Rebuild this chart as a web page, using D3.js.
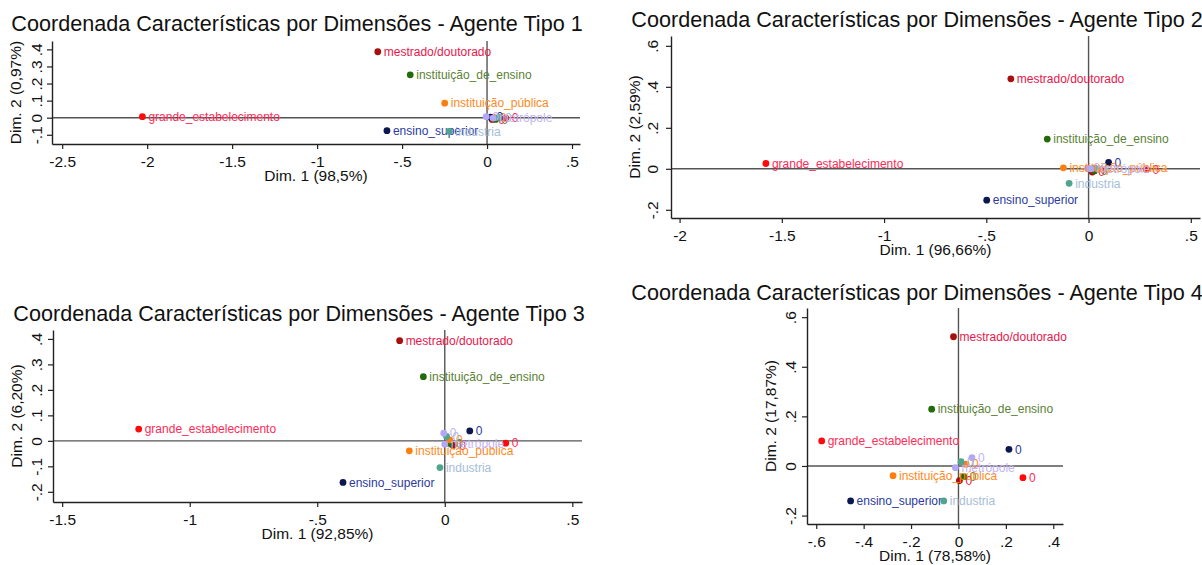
<!DOCTYPE html>
<html>
<head>
<meta charset="utf-8">
<script src="https://cdn.jsdelivr.net/npm/d3@7"></script>
<style>
  body { margin: 0; background: #fff; }
  svg { display: block; font-family: "Liberation Sans", Arial, sans-serif; }
</style>
</head>
<body>
<div id="chart"></div>
<script>
/* global d3 */

// categories (level 1) and their "0" counterparts
const categories = ['mestrado/doutorado', 'instituição_de_ensino', 'instituição_pública',
  'grande_estabelecimento', 'ensino_superior', 'industria', 'metrópole']
const zeroLabel = '0'

const titles = [
  'Coordenada Características por Dimensões - Agente Tipo 1',
  'Coordenada Características por Dimensões - Agente Tipo 2',
  'Coordenada Características por Dimensões - Agente Tipo 3',
  'Coordenada Características por Dimensões - Agente Tipo 4'
]
const dim1Labels = ['Dim. 1 (98,5%)', 'Dim. 1 (96,66%)', 'Dim. 1 (92,85%)', 'Dim. 1 (78,58%)']
const dim2Labels = ['Dim. 2 (0,97%)', 'Dim. 2 (2,59%)', 'Dim. 2 (6,20%)', 'Dim. 2 (17,87%)']

// coordinates, tipo 1
const tipo1Dim1 = [-0.643, -0.452, -0.249, -2.028, -0.589, -0.222, 0.035]
const tipo1Dim2 = [0.386, 0.251, 0.085, 0.006, -0.076, -0.080, -0.002]
const tipo1ZeroDim1 = [0.03, 0.05, 0.04, 0.11, 0.02, 0.07, -0.005]
const tipo1ZeroDim2 = [-0.01, -0.01, 0.002, -0.002, 0.003, 0.002, 0.006]

// tipo 2
const tipo2Dim1 = [-0.380, -0.202, -0.123, -1.578, -0.498, -0.095, 0.01]
const tipo2Dim2 = [0.439, 0.145, 0.005, 0.026, -0.153, -0.071, 0.0]
const tipo2ZeroDim1 = [0.018, 0.03, 0.05, 0.283, 0.098, 0.03, -0.005]
const tipo2ZeroDim2 = [-0.016, -0.01, -0.002, -0.003, 0.031, 0.005, 0.003]

// tipo 3
const tipo3Dim1 = [-0.177, -0.084, -0.139, -1.200, -0.399, -0.019, 0.0]
const tipo3Dim2 = [0.393, 0.252, -0.039, 0.046, -0.163, -0.105, -0.013]
const tipo3ZeroDim1 = [0.033, 0.02, 0.02, 0.239, 0.098, 0.007, -0.004]
const tipo3ZeroDim2 = [-0.018, -0.012, 0.004, -0.009, 0.039, 0.017, 0.030]

// tipo 4
const tipo4Dim1 = [-0.021, -0.113, -0.276, -0.577, -0.455, -0.062, -0.013]
const tipo4Dim2 = [0.521, 0.229, -0.039, 0.101, -0.141, -0.141, -0.007]
const tipo4ZeroDim1 = [0.004, 0.022, 0.032, 0.272, 0.213, 0.011, 0.057]
const tipo4ZeroDim2 = [-0.059, -0.043, 0.007, -0.047, 0.067, 0.017, 0.034]

// ticks
const xTicks = [
  [-2.5, -2, -1.5, -1, -0.5, 0, 0.5],
  [-2, -1.5, -1, -0.5, 0, 0.5],
  [-1.5, -1, -0.5, 0, 0.5],
  [-0.6, -0.4, -0.2, 0, 0.2, 0.4]
]
const yTicks = [
  [-0.1, 0, 0.1, 0.2, 0.3, 0.4],
  [-0.2, 0, 0.2, 0.4, 0.6],
  [-0.2, -0.1, 0, 0.1, 0.2, 0.3, 0.4],
  [-0.2, 0, 0.2, 0.4, 0.6]
]

const markerColors = ['#a80f0f', '#236b0a', '#ff7f0e', '#ff0a0a', '#0b1850', '#4fa58e', '#b3a8f5']
const labelColors = ['#e8174b', '#5a8235', '#ff8a1e', '#ff2a55', '#2b3aa0', '#a5bdd8', '#c3b4f2']

const W = 1202
const H = 565

// plot regions in pixels and their domains
const panels = [
  { box: { l: 52, r: 580, t: 41, b: 144 }, xDom: [-2.56, 0.547], yDom: [-0.154, 0.449], titleX: 297, titleY: 31, yTickOff: 10,
    d1: tipo1Dim1, d2: tipo1Dim2, z1: tipo1ZeroDim1, z2: tipo1ZeroDim2 },
  { box: { l: 671, r: 1200, t: 36, b: 218 }, xDom: [-2.042, 0.545], yDom: [-0.240, 0.648], titleX: 917, titleY: 27, yTickOff: 13,
    d1: tipo2Dim1, d2: tipo2Dim2, z1: tipo2ZeroDim1, z2: tipo2ZeroDim2 },
  { box: { l: 53, r: 582, t: 330, b: 502 }, xDom: [-1.536, 0.538], yDom: [-0.240, 0.435], titleX: 299, titleY: 321, yTickOff: 11,
    d1: tipo3Dim1, d2: tipo3Dim2, z1: tipo3ZeroDim1, z2: tipo3ZeroDim2 },
  { box: { l: 807, r: 1063, t: 308, b: 524 }, xDom: [-0.639, 0.441], yDom: [-0.234, 0.637], titleX: 917, titleY: 300, yTickOff: 11,
    d1: tipo4Dim1, d2: tipo4Dim2, z1: tipo4ZeroDim1, z2: tipo4ZeroDim2 }
]

// stata style number labels: .5, -.2
const fmt = (d) => d === 0 ? '0' : String(+d.toFixed(2)).replace(/^(-?)0\./, '$1.')

const svg = d3.select('#chart')
  .append('svg')
  .attr('width', W)
  .attr('height', H)

panels.forEach((p, i) => {
  const x = d3.scaleLinear().domain(p.xDom).range([p.box.l, p.box.r])
  const y = d3.scaleLinear().domain(p.yDom).range([p.box.b, p.box.t])
  const g = svg.append('g')

  // title
  g.append('text')
    .attr('x', p.titleX)
    .attr('y', p.titleY)
    .attr('text-anchor', 'middle')
    .style('font-size', '21.6px')
    .style('fill', '#111')
    .text(titles[i])

  // reference lines at 0
  g.append('line')
    .attr('x1', p.box.l).attr('x2', p.box.r)
    .attr('y1', y(0)).attr('y2', y(0))
    .style('stroke', '#555').style('stroke-width', 1.4)
  g.append('line')
    .attr('x1', x(0)).attr('x2', x(0))
    .attr('y1', p.box.t).attr('y2', p.box.b)
    .style('stroke', '#555').style('stroke-width', 1.4)

  // x axis
  const xAxis = g.append('g')
    .attr('transform', `translate(0,${p.box.b})`)
    .call(d3.axisBottom(x).tickValues(xTicks[i]).tickFormat(fmt).tickSize(5).tickSizeOuter(0))
  xAxis.select('.domain').style('stroke', '#222').style('stroke-width', 1.4)
  xAxis.selectAll('.tick line').style('stroke', '#222').style('stroke-width', 1.2)
  xAxis.selectAll('.tick text')
    .attr('y', 23).attr('dy', 0)
    .style('font-size', '15.5px')
    .style('fill', '#111')
    .style('font-family', '"Liberation Sans", Arial, sans-serif')

  // y axis, rotated labels
  const yAxis = g.append('g')
    .attr('transform', `translate(${p.box.l},0)`)
    .call(d3.axisLeft(y).tickValues(yTicks[i]).tickFormat(fmt).tickSize(5).tickSizeOuter(0))
  yAxis.select('.domain').style('stroke', '#222').style('stroke-width', 1.4)
  yAxis.selectAll('.tick line').style('stroke', '#222').style('stroke-width', 1.2)
  yAxis.selectAll('.tick text')
    .attr('transform', 'rotate(-90)')
    .attr('x', 0).attr('y', -p.yTickOff).attr('dy', 0)
    .attr('text-anchor', 'middle')
    .style('font-size', '15.5px')
    .style('fill', '#111')
    .style('font-family', '"Liberation Sans", Arial, sans-serif')

  // axis titles
  g.append('text')
    .attr('x', (p.box.l + p.box.r) / 2)
    .attr('y', p.box.b + 37)
    .attr('text-anchor', 'middle')
    .style('font-size', '15.5px')
    .style('fill', '#111')
    .text(dim1Labels[i])
  g.append('text')
    .attr('transform', `translate(${p.box.l - 31},${(p.box.t + p.box.b) / 2}) rotate(-90)`)
    .attr('text-anchor', 'middle')
    .style('font-size', '15.5px')
    .style('fill', '#111')
    .text(dim2Labels[i])

  // points: 0 levels first, then categories
  const pts = []
  categories.forEach((c, k) => {
    pts.push({ k, label: zeroLabel, d1: p.z1[k], d2: p.z2[k] })
  })
  categories.forEach((c, k) => {
    pts.push({ k, label: c, d1: p.d1[k], d2: p.d2[k] })
  })

  const pt = g.selectAll('g.pt')
    .data(pts)
    .join('g')
    .attr('class', 'pt')

  pt.append('circle')
    .attr('cx', (d) => x(d.d1))
    .attr('cy', (d) => y(d.d2))
    .attr('r', 3.4)
    .style('fill', (d) => markerColors[d.k])

  pt.append('text')
    .attr('x', (d) => x(d.d1) + 6)
    .attr('y', (d) => y(d.d2) + 4.2)
    .style('font-size', '12px')
    .style('fill', (d) => labelColors[d.k])
    .text((d) => d.label)
})
</script>
</body>
</html>
